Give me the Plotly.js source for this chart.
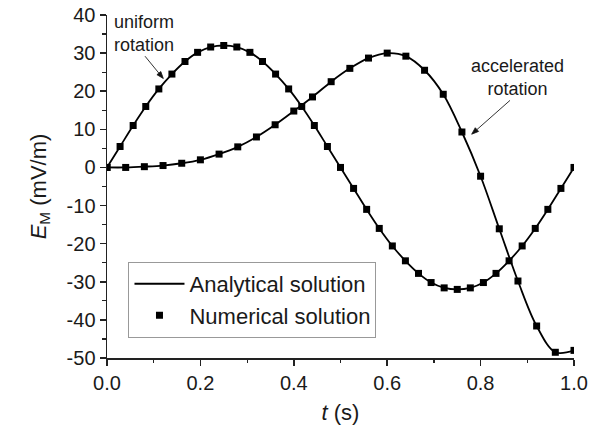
<!DOCTYPE html>
<html>
<head>
<meta charset="utf-8">
<script src="https://cdn.plot.ly/plotly-3.0.1.min.js"></script>
<style>html,body{margin:0;padding:0;background:#fff;}#chart{width:607px;height:432px;}</style>
</head>
<body>
<div id="chart"></div>
<script>
// Uniform rotation (t in s, E in mV/m)
var uniformT = [0, 0.028, 0.056, 0.083, 0.111, 0.139, 0.167, 0.194, 0.222, 0.25, 0.278, 0.306, 0.333, 0.361, 0.389, 0.417, 0.444, 0.472, 0.5, 0.528, 0.556, 0.583, 0.611, 0.639, 0.667, 0.694, 0.722, 0.75, 0.778, 0.806, 0.833, 0.861, 0.889, 0.917, 0.944, 0.972, 1.0];
var uniformE = [0, 5.5, 11.0, 16.0, 20.6, 24.5, 27.8, 30.2, 31.6, 32.0, 31.6, 30.2, 27.8, 24.5, 20.6, 16.0, 11.0, 5.5, 0, -5.5, -11.0, -16.0, -20.6, -24.5, -27.8, -30.2, -31.6, -32.0, -31.6, -30.2, -27.8, -24.5, -20.6, -16.0, -11.0, -5.5, 0];
// Accelerated rotation
var accelT = [0, 0.04, 0.08, 0.12, 0.16, 0.20, 0.24, 0.28, 0.32, 0.36, 0.40, 0.44, 0.48, 0.52, 0.56, 0.60, 0.64, 0.68, 0.72, 0.76, 0.80, 0.84, 0.88, 0.92, 0.96, 1.0];
var accelE = [0, 0, 0.2, 0.5, 1.1, 2.0, 3.5, 5.4, 8.0, 11.2, 14.8, 18.5, 22.5, 26.0, 28.7, 30.0, 29.2, 25.5, 19.2, 9.3, -2.3, -16.1, -29.8, -41.6, -48.5, -48.0];
// Tick labels
var xTickVals = [0, 0.2, 0.4, 0.6, 0.8, 1.0];
var xTickText = ["0.0", "0.2", "0.4", "0.6", "0.8", "1.0"];
var yTickVals = [-50, -40, -30, -20, -10, 0, 10, 20, 30, 40];
var yTickText = ["-50", "-40", "-30", "-20", "-10", "0", "10", "20", "30", "40"];
var seriesNames = ["Analytical solution", "Numerical solution"];

var FONT = "Arial, 'Liberation Sans', sans-serif";
var INK = "#1a1a1a";

var lineStyle = {color: "#000", width: 1.8, shape: "spline", smoothing: 1};
var markerStyle = {symbol: "square", size: 7, color: "#000"};

var traces = [
  {x: uniformT, y: uniformE, mode: "lines", line: lineStyle, name: seriesNames[0], legendgroup: "a", showlegend: true},
  {x: accelT, y: accelE, mode: "lines", line: lineStyle, name: seriesNames[0], legendgroup: "a", showlegend: false},
  {x: uniformT, y: uniformE, mode: "markers", marker: markerStyle, name: seriesNames[1], legendgroup: "n", showlegend: true},
  {x: accelT, y: accelE, mode: "markers", marker: markerStyle, name: seriesNames[1], legendgroup: "n", showlegend: false}
];

var axisCommon = {
  showline: true, linecolor: "#222", linewidth: 1.5, mirror: false,
  ticks: "outside", ticklen: 6, tickwidth: 1.5, tickcolor: "#222",
  showgrid: false, zeroline: false,
  tickfont: {family: FONT, size: 20, color: INK},
  tickmode: "array"
};

// arrow pointer geometry (annotation pointers, data units)
var arrowColor = "#333";
var shapes = [
  {type: "line", xref: "x", yref: "y", x0: 0.0814, y0: 29.19, x1: 0.1110, y1: 24.76, line: {color: arrowColor, width: 1}},
  {type: "path", xref: "x", yref: "y", path: "M0.1206,23.34 L0.1069,24.34 L0.1152,25.17 Z", fillcolor: "#111", line: {color: "#111", width: 0.8}},
  {type: "line", xref: "x", yref: "y", x0: 0.8630, y0: 17.60, x1: 0.7921, y1: 9.93, line: {color: arrowColor, width: 1}},
  {type: "path", xref: "x", yref: "y", path: "M0.7809,8.72 L0.7886,10.42 L0.7957,9.45 Z", fillcolor: "#111", line: {color: "#111", width: 0.8}}
];

var layout = {
  width: 607, height: 432,
  margin: {l: 107, r: 33, t: 15, b: 74},
  paper_bgcolor: "#fff", plot_bgcolor: "#fff",
  font: {family: FONT, color: INK},
  xaxis: Object.assign({}, axisCommon, {
    range: [0, 1], tickvals: xTickVals, ticktext: xTickText,
    minor: {ticks: "outside", dtick: 0.1, tick0: 0, ticklen: 3.5, tickwidth: 1.2, tickcolor: "#222"},
    title: {text: "<i>t</i> (s)", font: {family: FONT, size: 22, color: INK}, standoff: 12}
  }),
  yaxis: Object.assign({}, axisCommon, {
    range: [-50, 40], tickvals: yTickVals, ticktext: yTickText,
    minor: {ticks: "outside", dtick: 5, tick0: 0, ticklen: 3.5, tickwidth: 1.2, tickcolor: "#222"},
    title: {text: "<i>E</i><sub>M</sub> (mV/m)", font: {family: FONT, size: 22, color: INK}, standoff: 14}
  }),
  legend: {
    x: 0.046, y: 0.28, xanchor: "left", yanchor: "top",
    bgcolor: "#fff", bordercolor: "#999", borderwidth: 1,
    font: {family: FONT, size: 22, color: INK},
    itemwidth: 50,
    tracegroupgap: 0
  },
  showlegend: true,
  shapes: shapes,
  annotations: [
    {x: 0.079, y: 35.2, xref: "x", yref: "y", text: "uniform<br>rotation", showarrow: false,
     font: {family: FONT, size: 18, color: INK}, align: "center"},
    {x: 0.878, y: 23.6, xref: "x", yref: "y", text: "accelerated<br>rotation", showarrow: false,
     font: {family: FONT, size: 18, color: INK}, align: "center"}
  ]
};

Plotly.newPlot("chart", traces, layout, {staticPlot: true, displayModeBar: false});
</script>
</body>
</html>
